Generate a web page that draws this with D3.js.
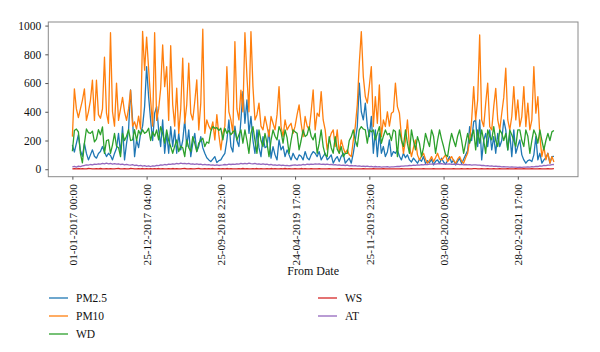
<!DOCTYPE html>
<html><head><meta charset="utf-8">
<script src="https://cdn.jsdelivr.net/npm/d3@7"></script>
<style>body{margin:0;background:#fff}svg{display:block}</style>
</head><body>
<svg id="c" width="600" height="352"></svg>
<script>
const tickIndex = [0,37,74,111,148,185,222];
const tickLabels = ["01-01-2017 00:00","25-12-2017 04:00","25-09-2018 22:00","24-04-2019 17:00","25-11-2019 23:00","03-08-2020 09:00","28-02-2021 17:00"];
const yTicks = [0,200,400,600,800,1000];
const seriesNames = ["PM2.5","PM10","WD","WS","AT"];
const seriesColors = ["#1f77b4","#ff7f0e","#2ca02c","#d62728","#9467bd"];

const PM25 = [170,120,180,240,130,90,180,110,65,100,135,90,77,110,123,158,120,88,111,95,65,110,146,250,111,297,65,180,274,552,343,88,204,150,250,300,436,714,505,343,200,
390,436,274,158,343,111,250,111,297,158,274,111,250,135,200,343,158,274,88,180,250,123,160,227,150,111,80,65,53,70,88,46,60,65,90,111,200,343,158,120,
300,200,158,343,540,320,483,250,367,200,111,274,150,88,227,150,158,274,77,158,100,65,204,135,160,88,135,100,65,111,80,65,100,90,65,123,80,65,100,123,
111,88,123,65,90,111,65,80,100,42,70,88,53,90,111,42,60,77,42,111,200,297,600,400,343,460,300,227,367,111,274,88,250,111,158,88,120,204,90,123,
111,135,90,65,111,80,100,65,50,77,60,42,70,55,88,40,60,45,70,30,55,65,40,77,50,35,60,88,45,65,30,55,77,40,70,100,130,297,200,330,
343,158,343,65,200,250,158,274,135,227,111,250,158,200,343,274,135,250,88,274,111,160,204,100,65,42,60,65,53,100,227,65,111,42,65,80,111,42,88,90];

const PM10 = [227,560,420,360,420,480,560,340,400,480,620,340,620,380,355,420,780,390,320,950,400,300,600,340,420,500,400,340,420,550,300,330,280,370,280,960,690,920,700,480,300,
950,340,420,560,865,575,714,340,860,450,300,564,250,420,773,320,450,738,390,343,470,622,274,460,975,250,343,300,274,330,204,380,239,135,250,300,714,400,343,250,
889,420,343,550,400,950,645,400,958,575,343,380,460,300,274,367,300,227,367,320,274,380,575,297,227,343,274,300,320,250,300,380,448,320,227,367,300,274,400,552,
274,390,367,540,343,274,135,204,250,274,158,274,111,204,150,111,135,100,88,200,297,450,738,958,645,506,460,580,714,297,506,320,587,227,343,297,400,300,390,400,
600,436,390,227,111,200,343,158,88,150,204,100,65,90,111,70,42,60,88,53,80,111,70,65,80,100,53,70,88,60,42,70,88,55,42,80,111,200,343,575,
343,483,935,343,297,460,600,297,274,436,563,343,274,390,500,703,343,274,367,575,343,483,297,367,575,297,460,274,343,714,390,506,227,88,158,65,111,42,88,50];

const WD = [125,270,280,260,110,45,180,280,255,250,265,190,210,275,240,295,110,200,205,110,170,250,160,150,88,250,200,230,275,200,205,275,200,270,240,275,250,260,285,200,260,
230,274,204,297,250,181,274,200,158,111,160,204,123,160,150,88,204,150,123,227,180,123,181,200,216,158,190,181,262,297,285,290,270,285,204,285,250,270,240,260,
270,204,240,274,181,274,200,111,250,297,200,111,274,200,158,250,180,88,200,274,230,204,297,260,181,274,220,111,200,274,260,250,135,200,274,227,240,297,230,204,
250,111,180,274,158,100,88,227,150,111,227,140,111,158,88,110,111,200,227,274,200,158,274,297,280,274,181,274,260,274,204,250,297,181,230,274,240,250,200,274,
262,88,274,200,158,274,180,111,274,200,135,227,180,88,150,250,200,158,274,230,111,200,274,210,158,100,88,180,250,200,158,230,274,200,111,180,250,181,230,274,
135,274,181,274,200,111,274,230,204,297,200,158,274,250,200,250,135,274,239,200,158,274,274,200,158,274,230,111,200,274,240,181,274,200,135,200,250,200,260,270];

const WS = [3,4,2,5,3,4,2,3,5,4,3,2,4,3,5,3,2,4,3,4,2,3,4,5,3,2,4,3,3,5,4,2,3,4,3,5,2,4,3,4,3,
4,3,5,2,4,3,3,4,2,5,3,4,3,2,4,5,3,3,4,2,3,4,5,3,2,4,3,4,3,5,2,3,4,3,4,2,5,3,4,3,
3,2,4,3,5,3,4,2,3,4,3,5,2,4,3,3,4,2,5,3,4,3,2,4,3,5,3,4,2,3,4,3,2,5,3,4,3,2,4,3,
2,3,4,2,3,3,2,4,3,2,3,2,4,3,2,3,3,2,4,3,2,3,2,3,4,2,3,2,3,4,3,2,3,2,4,3,2,3,3,2,
3,2,3,4,2,3,3,2,4,3,2,3,3,2,4,3,2,3,2,4,3,3,2,3,4,2,3,3,2,4,3,2,3,4,3,2,4,3,3,4,
4,3,2,4,3,3,4,2,3,4,3,2,4,3,3,2,4,3,2,3,4,3,2,3,4,3,2,3,4,3,3,2,4,3,2,3,4,3,3,4];

const AT = [16,20,15,22,18,24,26,30,28,33,31,36,34,38,35,40,37,42,38,40,36,39,35,38,33,36,31,34,30,28,32,26,29,24,27,22,25,20,23,19,24,
22,27,25,30,28,33,31,36,34,38,36,40,38,42,39,41,37,40,36,38,34,37,33,35,31,34,30,32,28,31,27,30,26,29,30,33,31,35,33,36,
34,38,35,40,37,41,38,42,39,37,40,36,38,34,37,33,35,31,33,29,31,27,30,26,28,25,27,24,26,28,30,27,31,29,33,31,35,33,36,34,
37,35,38,34,36,33,35,32,34,30,32,29,31,27,29,26,28,24,26,23,25,21,23,20,22,19,21,18,20,17,19,16,18,15,17,16,18,15,17,16,
18,20,19,22,21,24,23,26,25,28,27,30,29,32,31,34,33,36,35,37,36,38,37,39,36,38,35,37,34,36,33,35,32,34,31,33,30,32,29,31,
30,28,29,26,27,24,25,22,23,20,21,19,20,17,18,16,17,15,16,14,15,13,14,13,15,14,16,15,18,17,20,19,23,22,26,25,29,28,32,33];

const allSeries = [PM25, PM10, WD, WS, AT];
const N = PM25.length;

const svg = d3.select("#c");
const L = 48.3, R = 578, T = 22, B = 176.7;
const font = "'Liberation Serif','Times New Roman',serif";

const x = d3.scaleLinear().domain([-0.05*(N-1), (N-1)*1.05]).range([L, R]);
const y = d3.scaleLinear().domain([-52, 1025]).range([B, T]);

// lines
const line = d3.line().x((d,i)=>x(i)).y(d=>y(d));
allSeries.forEach((s,k)=>{
  svg.append("path").datum(s).attr("d", line)
    .attr("fill","none").attr("stroke", seriesColors[k])
    .attr("stroke-width",1.3).attr("stroke-linejoin","round");
});

// frame
svg.append("rect").attr("x",L).attr("y",T).attr("width",R-L).attr("height",B-T)
  .attr("fill","none").attr("stroke","#8a8a8a").attr("stroke-width",1);

// y axis
const ya = svg.append("g").attr("transform",`translate(${L},0)`)
  .call(d3.axisLeft(y).tickValues(yTicks).tickSize(3).tickPadding(4).tickFormat(d3.format("d")));
ya.select(".domain").remove();
ya.selectAll("line").attr("stroke","#555");
ya.selectAll("text").attr("font-family",font).attr("font-size",11.5).attr("fill","#111");

// x axis
const xa = svg.append("g").attr("transform",`translate(0,${B})`)
  .call(d3.axisBottom(x).tickValues(tickIndex).tickSize(3).tickFormat((d,i)=>tickLabels[i]));
xa.select(".domain").remove();
xa.selectAll("line").attr("stroke","#555");
xa.selectAll("text")
  .attr("font-family",font).attr("font-size",11.3).attr("fill","#111")
  .attr("text-anchor","end").attr("y",0).attr("dy","0.35em")
  .attr("transform","translate(0,7.5) rotate(-90)");

svg.append("text").attr("x",(L+R)/2).attr("y",275).attr("text-anchor","middle")
  .attr("font-family",font).attr("font-size",12).attr("fill","#111").text("From Date");

// legend
const legendPos = [[49,298],[49,316],[49,334],[318,298],[318,316]];
seriesNames.forEach((n,k)=>{
  const [lx,ly] = legendPos[k];
  svg.append("line").attr("x1",lx).attr("x2",lx+19).attr("y1",ly).attr("y2",ly)
    .attr("stroke",seriesColors[k]).attr("stroke-width",1.3);
  svg.append("text").attr("x",lx+27).attr("y",ly).attr("dy","0.35em")
    .attr("font-family",font).attr("font-size",11.5).attr("fill","#111").text(n);
});
</script>
</body></html>
